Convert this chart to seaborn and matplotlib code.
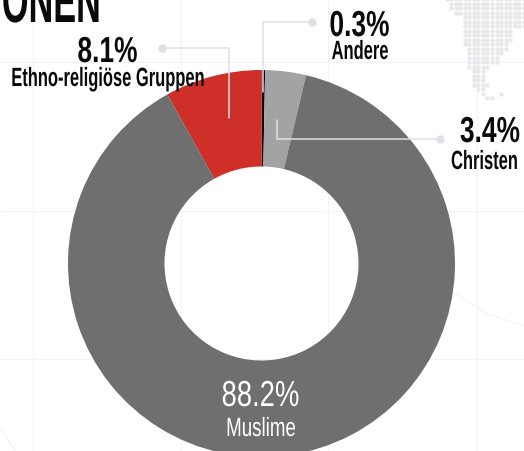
import matplotlib
matplotlib.use('Agg')
import matplotlib.pyplot as plt
import pandas as pd
import seaborn as sns
from matplotlib.patheffects import AbstractPathEffect
from matplotlib.text import Text
from matplotlib.transforms import Affine2D

categories = ['Andere', 'Christen', 'Muslime', 'Ethno-religiöse Gruppen']
shares = [0.3, 3.4, 88.2, 8.1]
share_labels = ['0.3%', '3.4%', '88.2%', '8.1%']
slice_colors = ['#0a0a0a', '#a3a3a3', '#6f6f6f', '#cf2f29']
title_fragment = 'ONEN'

# dot map in the corner: first and last column of each row
map_first = [0, 1, 1, 2, 4, 4, 4, 4, 4, 4, 4, 5, 5, 5, 5, 5, 6, 6, 6, 6, 7, 8, 9]
map_last = [17, 17, 17, 17, 17, 17, 17, 14, 14, 14, 13, 13, 12, 11, 11, 9, 8, 8, 8, 9, 8, 8, 10]

sns.set_theme(style='white')
plt.rcParams['font.family'] = ['Liberation Sans', 'DejaVu Sans']

W, H = 524, 452
fig = plt.figure(figsize=(W / 100, H / 100), dpi=100)
ax = fig.add_axes([0, 0, 1, 1])


# no condensed font here, so squeeze the glyphs sideways around the text's centre
class Squeeze(AbstractPathEffect):
    def __init__(self, owner):
        super().__init__()
        self.owner = owner

    def draw_path(self, renderer, gc, tpath, affine, rgbFace=None):
        cx = self.owner.centre_px()
        f = self.owner.squeeze
        renderer.draw_path(gc, tpath, affine + Affine2D().translate(-cx, 0).scale(f, 1).translate(cx, 0), rgbFace)


class NarrowText(Text):
    def __init__(self, x, y, s, squeeze, **kw):
        super().__init__(x, y, s, ha='center', va='baseline', **kw)
        self.squeeze = squeeze
        self.set_path_effects([Squeeze(self)])

    def centre_px(self):
        return self.get_transform().transform(self.get_position())[0]

    def get_window_extent(self, renderer=None, dpi=None):
        bb = super().get_window_extent(renderer, dpi)
        cx = self.centre_px()
        return bb.from_extents(cx + (bb.x0 - cx) * self.squeeze, bb.y0, cx + (bb.x1 - cx) * self.squeeze, bb.y1)


def label(x, y, s, size, squeeze, color='#0a0a0a', weight='bold'):
    ax.add_artist(NarrowText(x, y, s, squeeze, fontsize=size, color=color, fontweight=weight,
                             transform=ax.transData, zorder=6, clip_on=True))


# faint background grid
for x in [33, 181, 328, 477]:
    ax.axvline(x, color='#f4f4f6', lw=0.8, zorder=0)
for y in [63, 212, 360]:
    ax.axhline(y, color='#f4f4f6', lw=0.8, zorder=0)
ax.plot([452, 485, 524], [293, 314, 327], color='#f2f2f4', lw=0.8, zorder=0)
ax.plot([0, 15], [428, 452], color='#f2f2f4', lw=0.8, zorder=0)

rows = []
for r, (a, b) in enumerate(zip(map_first, map_last)):
    for c in range(a, b + 1):
        rows.append({'col': 446.7 + 4.53 * c, 'row': 4.5 * r})
rows.append({'col': 446.7 + 4.53 * 12, 'row': 4.5 * 21})
sns.scatterplot(data=pd.DataFrame(rows), x='col', y='row', s=10, color='#e8e8ec', linewidth=0, ax=ax, zorder=1)

# y axis is flipped below, so counterclock=True comes out clockwise on screen
ax.pie(shares, colors=slice_colors, center=(261.5, 264.5), radius=193.5,
       startangle=-90, counterclock=True, frame=True,
       wedgeprops=dict(width=96.5, linewidth=0))
ax.set_xlim(0, W)
ax.set_ylim(H, 0)
ax.set_aspect('auto')
ax.axis('off')

line_color = '#dfdfe6'
for xs, ys in [([312, 263, 263], [23, 23, 93]),
               ([162, 228.5, 228.5], [49, 49, 119]),
               ([440, 276.5, 276.5], [140, 140, 121])]:
    ax.plot(xs, ys, color=line_color, lw=1.1, zorder=5)
    ax.plot(xs[:1], ys[:1], 'o', color=line_color, ms=5, zorder=5)

label(51.5, 23, title_fragment, 44, 0.56)

label(359.5, 37, share_labels[0], 26, 0.73)
label(360, 60, categories[0], 19, 0.625)
label(490, 143, share_labels[1], 26, 0.73)
label(484.5, 170, categories[1], 19, 0.625)
label(260.5, 407, share_labels[2], 26, 0.76, color='white', weight='normal')
label(261, 437, categories[2], 19, 0.71, color='white', weight='normal')
label(107.5, 63, share_labels[3], 26, 0.73)
label(108, 87, categories[3], 19, 0.625)

fig.savefig('out.png', dpi=100)
